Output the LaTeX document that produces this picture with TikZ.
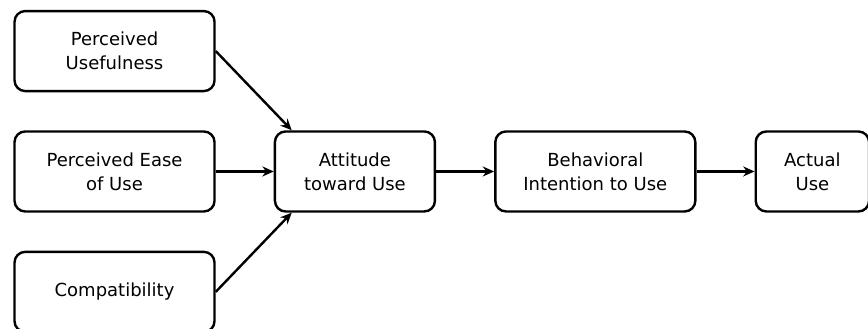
\documentclass[tikz,border=0pt]{standalone}
\usepackage{fontspec}
\setmainfont{DejaVu Sans}
\usepackage{tikz}
\usetikzlibrary{arrows.meta, positioning}

\begin{document}
\begin{tikzpicture}[line width=1.8pt, >={Stealth[length=8.5pt,width=7.5pt]}]
\tikzstyle{construct} = [rectangle, draw, align=center, minimum width=150pt, minimum height=60pt, rounded corners=8pt, font=\fontsize{13.5}{18}\selectfont]

\useasboundingbox (-85.9pt,-118.1pt) rectangle (565.1pt,128.6pt);

\node (ease) [construct] {Perceived Ease\\of Use};
\node (useful) [construct, above=28.5pt of ease] {Perceived\\Usefulness};
\node (compat) [construct, below=28.5pt of ease] {Compatibility};
\node (attitude) [construct, minimum width=120pt, right=43.5pt of ease] {Attitude\\toward Use};
\node (intention) [construct, right=43.5pt of attitude] {Behavioral\\Intention to Use};
\node (actual) [construct, minimum width=85pt, right=43.5pt of intention] {Actual\\Use};

\draw[->] (useful.east) -- ([xshift=13.5pt]attitude.north west);
\draw[->] (ease) -- (attitude);
\draw[->] (compat.east) -- ([xshift=13.5pt]attitude.south west);
\draw[->] (attitude) -- (intention);
\draw[->] (intention) -- (actual);

\end{tikzpicture}
\end{document}
